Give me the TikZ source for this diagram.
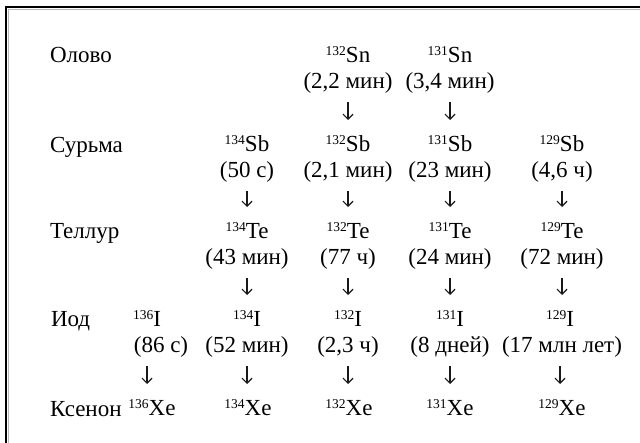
\documentclass[tikz,border=0pt]{standalone}
\usepackage{fontspec}
\setmainfont{Liberation Serif}
\usetikzlibrary{arrows.meta}
\newcommand\iso[2]{{\fontsize{13.5}{13.5}\selectfont\raisebox{7pt}{#1}}#2}
\begin{document}
\begin{tikzpicture}[x=1pt,y=-1pt,
  every node/.style={inner sep=0pt, outer sep=0pt, font=\fontsize{23}{27}\selectfont, text=black},
  lbl/.style={anchor=base west},
  elem/.style={anchor=base, text height=15pt, text depth=5pt},
  hl/.style={anchor=base, text height=15pt, text depth=5pt},
  decay/.style={-{Straight Barb[length=5pt,width=10pt,line width=1.2pt]}, line width=1.2pt, black!90, shorten <=8pt, shorten >=17pt},
  frameline/.style={line width=2pt, black}
]
\useasboundingbox (0,0) rectangle (640,443);
\draw[gray!55, line width=1pt] (8.5,443) -- (8.5,9.5) -- (640,9.5);
\draw[frameline] (6,443) -- (6,7) -- (640,7);

% row labels
\node[lbl] (lsn) at (50,63) {Олово};
\node[lbl] (lsb) at (50,153) {Сурьма};
\node[lbl] (lte) at (50,239) {Теллур};
\node[lbl] (li) at (51,327) {Иод};
\node[lbl] (lxe) at (50,417) {Ксенон};

% tin
\node[elem] (sn132) at (348,63) {\iso{132}{Sn}};
\node[hl] (sn132t) at (348,89) {(2,2 мин)};
\node[elem] (sn131) at (450,63) {\iso{131}{Sn}};
\node[hl] (sn131t) at (450,89) {(3,4 мин)};

% antimony
\node[elem] (sb134) at (247,152) {\iso{134}{Sb}};
\node[hl] (sb134t) at (247,178) {(50 с)};
\node[elem] (sb132) at (348,152) {\iso{132}{Sb}};
\node[hl] (sb132t) at (348,178) {(2,1 мин)};
\node[elem] (sb131) at (450,152) {\iso{131}{Sb}};
\node[hl] (sb131t) at (450,178) {(23 мин)};
\node[elem] (sb129) at (562,152) {\iso{129}{Sb}};
\node[hl] (sb129t) at (562,178) {(4,6 ч)};

% tellurium
\node[elem] (te134) at (247,239) {\iso{134}{Te}};
\node[hl] (te134t) at (247,265) {(43 мин)};
\node[elem] (te132) at (348,239) {\iso{132}{Te}};
\node[hl] (te132t) at (348,265) {(77 ч)};
\node[elem] (te131) at (450,239) {\iso{131}{Te}};
\node[hl] (te131t) at (450,265) {(24 мин)};
\node[elem] (te129) at (562,239) {\iso{129}{Te}};
\node[hl] (te129t) at (562,265) {(72 мин)};

% iodine
\node[elem] (i136) at (147,327) {\iso{136}{I}};
\node[hl] (i136t) at (161,353) {(86 с)};
\node[elem] (i134) at (247,327) {\iso{134}{I}};
\node[hl] (i134t) at (247,353) {(52 мин)};
\node[elem] (i132) at (348,327) {\iso{132}{I}};
\node[hl] (i132t) at (348,353) {(2,3 ч)};
\node[elem] (i131) at (450,327) {\iso{131}{I}};
\node[hl] (i131t) at (450,353) {(8 дней)};
\node[elem] (i129) at (560,327) {\iso{129}{I}};
\node[hl] (i129t) at (562,353) {(17 млн лет)};

% xenon
\node[elem] (xe136) at (152,416) {\iso{136}{Xe}};
\node[elem] (xe134) at (248,416) {\iso{134}{Xe}};
\node[elem] (xe132) at (349,416) {\iso{132}{Xe}};
\node[elem] (xe131) at (450,416) {\iso{131}{Xe}};
\node[elem] (xe129) at (562,416) {\iso{129}{Xe}};

\foreach \a/\b/\c in {sn132/sn132t/sb132, sn131/sn131t/sb131,
  sb134/sb134t/te134, sb132/sb132t/te132, sb131/sb131t/te131, sb129/sb129t/te129,
  te134/te134t/i134, te132/te132t/i132, te131/te131t/i131, te129/te129t/i129,
  i136/i136t/xe136, i134/i134t/xe134, i132/i132t/xe132, i131/i131t/xe131, i129/i129t/xe129}
  \draw[decay] (\b.south -| \a.center) -- (\c.north -| \a.center);
\end{tikzpicture}
\end{document}
